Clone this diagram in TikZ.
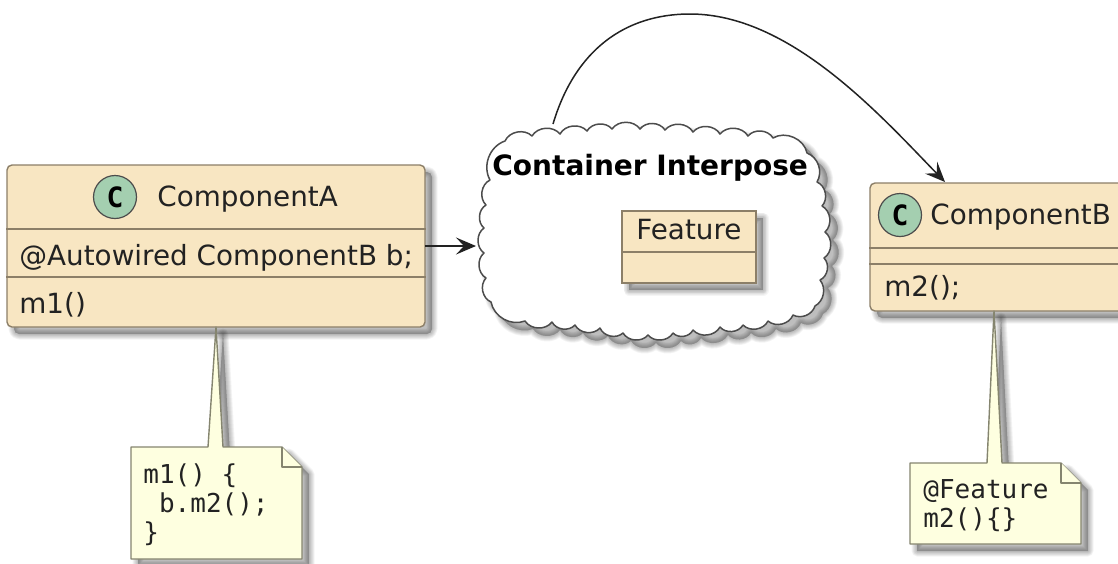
\documentclass[tikz,border=0pt]{standalone}
\usepackage{fontspec}
\setmainfont{DejaVu Sans}
\setmonofont{DejaVu Sans Mono}
\usetikzlibrary{arrows.meta}
\definecolor{classfill}{HTML}{F8E6C2}
\definecolor{classline}{HTML}{8C7F68}
\definecolor{notefill}{HTML}{FEFFE0}
\definecolor{noteline}{HTML}{85856F}
\definecolor{badge}{HTML}{A4CFB0}
\definecolor{ink}{HTML}{222222}
\newcommand{\softshade}[2][7]{%
  \foreach \w in {11,9.5,8,6.5,5,3.5,2}{%
    \path[shift={(#1,#1)},draw=black,fill=black,draw opacity=.04,fill opacity=.04,line width=\w*0.5pt,line join=round] #2;}}
\tikzset{
  classbox/.style={draw=classline,fill=classfill,line width=.7pt,rounded corners=2.5pt,inner sep=0pt},
  plainbox/.style={draw=classline,fill=classfill,line width=.7pt,inner sep=0pt},
  rowline/.style={draw=classline,line width=.6pt},
  label/.style={anchor=base west,inner sep=0pt,font=\fontsize{13.9}{16}\selectfont,text=ink},
  badgec/.style={circle,draw=black!70,fill=badge,line width=.6pt,minimum size=21.5pt,inner sep=0pt,font=\ttfamily\bfseries\fontsize{14}{14}\selectfont},
  notebody/.style={fill=notefill,draw=noteline,line width=.7pt,line join=round},
  notetext/.style={anchor=base west,inner sep=0pt,align=left,text=ink,font=\ttfamily\fontsize{13}{14.5}\selectfont},
  link/.style={draw=ink,line width=.75pt,-{Stealth[length=10pt,width=8.5pt,inset=4pt]}},
  cloudline/.style={draw=black!70,fill=white,line width=.75pt,line join=round},
  bump/.style={bend left=55},
  bigbump/.style={bend left=50}
}
\def\cloudpath{(490,180) to[bigbump] (505,141) to[bump] (532,136) to[bump] (560,134) to[bump] (587,131) to[bump] (612,129) to[bump] (640,129) to[bump] (665,130) to[bump] (693,132) to[bump] (720,134) to[bump] (748,136) to[bump] (773,138) to[bump] (807,153) to[bigbump] (817,182) to[bump] (822,206) to[bump] (825,232) to[bump] (824,258) to[bump] (820,280) to[bigbump] (815,306) to[bigbump] (793,315) to[bump] (768,321) to[bump] (743,325) to[bump] (720,327) to[bump] (693,330) to[bump] (673,333) to[bump] (648,335) to[bump] (623,333) to[bump] (600,328) to[bump] (575,325) to[bump] (552,322) to[bump] (525,321) to[bigbump] (491,302) to[bump] (486,278) to[bump] (484,253) to[bump] (484,228) to[bump] (486,205) to[bump] cycle}
\def\notepatha{(131,447) -- (208,447) -- (216,327) -- (223,447) -- (282,447) -- (302,467) -- (302,559) -- (131,559) -- cycle}
\def\notepathb{(910,463) -- (987,463) -- (994,311) -- (1002,463) -- (1061,463) -- (1081,483) -- (1081,544) -- (910,544) -- cycle}
\begin{document}
\begin{tikzpicture}[x=.5pt,y=-.5pt]
\clip (0,0) rectangle (1118,563);
\fill[white] (0,0) rectangle (1118,563);
% shadows
\softshade{[rounded corners=2.5pt] (7,165) rectangle (425,327)}
\softshade{[rounded corners=2.5pt] (870,183) rectangle (1130,311)}
\softshade[8]{\cloudpath}
\softshade{\notepatha}
\softshade{\notepathb}
% component A
\node[classbox,minimum width=209pt,minimum height=81pt] (a) at (216,246) {};
\draw[rowline] (a.west |- 0,229) -- (a.east |- 0,229);
\draw[rowline] (a.west |- 0,277) -- (a.east |- 0,277);
\node[badgec] (abadge) at (115,197) {C};
\node[label] (aname) at (157,206) {ComponentA};
\node[label] (afield) at (19,265) {@Autowired ComponentB b;};
\node[label] (amethod) at (19,313) {m1()};
% cloud
\draw[cloudline] \cloudpath;
\node[label,font=\bfseries\fontsize{14}{16}\selectfont,text=black] (ctitle) at (492,175) {Container Interpose};
\softshade{(622,211) rectangle (756,283)}
\node[plainbox,minimum width=67pt,minimum height=36pt] (f) at (689,247) {};
\draw[rowline] (f.west |- 0,252) -- (f.east |- 0,252);
\node[label] (fname) at (636,239) {Feature};
% component B
\node[classbox,minimum width=130pt,minimum height=64pt] (b) at (1000,247) {};
\draw[rowline] (b.west |- 0,248) -- (b.east |- 0,248);
\draw[rowline] (b.west |- 0,264) -- (b.east |- 0,264);
\node[badgec] (bbadge) at (900,215) {C};
\node[label] (bname) at (930,224) {ComponentB};
\node[label] (bmethod) at (884,296) {m2();};
% connectors
\coordinate (aout) at (425,246);
\coordinate (cin) at (476,246);
\coordinate (ctop) at (553,124);
\coordinate (btop) at (945,182);
\draw[link] (aout) -- (cin);
\draw[link] (ctop) .. controls (575,50) and (625,14) .. (690,14) .. controls (790,14) and (880,115) .. (btop);
% notes
\draw[notebody] \notepatha;
\draw[notebody] (282,447) -- (282,467) -- (302,467);
\node[notetext] (na) at (143,541) {m1() \{\\\ b.m2();\\\}};
\draw[notebody] \notepathb;
\draw[notebody] (1061,463) -- (1061,483) -- (1081,483);
\node[notetext] (nb) at (923,527) {@Feature\\m2()\{\}};
\end{tikzpicture}
\end{document}
